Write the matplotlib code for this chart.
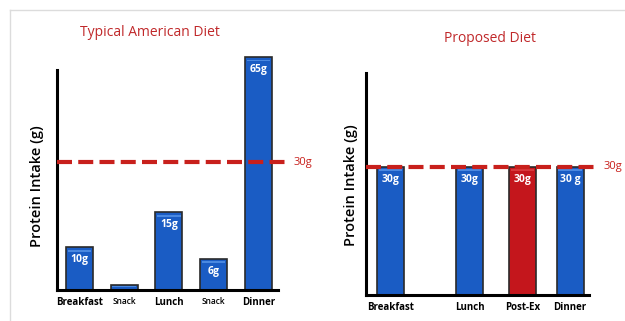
import numpy as np
import matplotlib
matplotlib.use("Agg")
from matplotlib import pyplot as plt
from matplotlib.lines import Line2D

plt.rcParams['font.family'] = ['Open Sans', 'DejaVu Sans']

# typical american diet
typ_meals = ["Breakfast", "Snack", "Lunch", "Snack", "Dinner"]
typ_height = [10, 1.2, 18.2, 7.3, 54.6]
typ_labels = ["10g", "", "15g", "6g", "65g"]

# proposed diet
prop_meals = ["Breakfast", "Lunch", "Post-Ex", "Dinner"]
prop_height = [30, 30, 30, 30]
prop_labels = ["30g", "30g", "30g", "30 g"]

target = 30

blue = "#1a5cc4"
red = "#c4161c"
dash_red = "#c8201c"

fig = plt.figure(figsize=(6.25, 3.21), dpi=100)
W, H = 625., 321.

# faint frame of the slide
fig.add_artist(Line2D([10/W, 1], [1-10/H, 1-10/H], color="#dcdcdc", lw=1))
fig.add_artist(Line2D([10/W, 10/W], [0, 1-10/H], color="#dcdcdc", lw=1))


def panel(rect, xpos, heights, labels, meals, colors, width, xlim, ytop, line_ext, small):
    ax = fig.add_axes(rect)
    bars = ax.bar(xpos, heights, width=width, color=colors, edgecolor="#2a2a2a",
                  linewidth=1.2, clip_on=False, zorder=2)
    # light bevel along the top of each bar
    hl = ["#4a88e0" if c == blue else "#d8383c" for c in colors]
    tops = np.array(heights, dtype=float)
    ax.bar(xpos, np.minimum(0.45, tops * 0.2), bottom=tops - np.minimum(1.0, tops * 0.5),
           width=width * 0.88, color=hl, linewidth=0, clip_on=False, zorder=2.5)
    for b, lab in zip(bars, labels):
        if lab:
            ax.annotate(lab, (b.get_x() + b.get_width()/2, b.get_height()),
                        xytext=(0, -5), textcoords="offset points",
                        ha="center", va="top", color="white",
                        fontsize=7.5, fontweight="bold", zorder=4,
                        annotation_clip=False)
    ax.plot([xlim[0], xlim[1] + line_ext], [target, target], color=dash_red,
            lw=3, dashes=(3.6, 1.5), clip_on=False, zorder=3)
    ax.text(xlim[1] + line_ext + 0.12, target, f"{target}g", color=dash_red,
            fontsize=8, va="center", ha="left")
    ax.set_xlim(*xlim)
    ax.set_ylim(0, ytop)
    for s in ["top", "right"]:
        ax.spines[s].set_visible(False)
    ax.spines["left"].set_linewidth(2.2)
    ax.spines["bottom"].set_linewidth(2.2)
    ax.set_yticks([])
    ax.set_xticks(xpos)
    ax.set_xticklabels(meals)
    for t, m in zip(ax.get_xticklabels(), meals):
        if m in small:
            t.set_fontsize(6)
            t.set_fontweight("semibold")
        else:
            t.set_fontsize(7)
            t.set_fontweight("bold")
    ax.tick_params(axis="x", length=0, pad=5)
    ax.set_ylabel("Protein Intake (g)", fontsize=10.5, fontweight="semibold")
    return ax


ax1 = panel([57/W, 31/H, 221/W, 220/H], np.arange(len(typ_meals)) * 1.0,
            typ_height, typ_labels, typ_meals, [blue]*5, 0.6,
            (-0.5, 4.44), 51.6, 0.22, ["Snack"])
ax1.yaxis.set_label_coords(-0.057, 0.47)

ax2 = panel([366/W, 26/H, 223/W, 222/H], [0, 1.58, 2.64, 3.59],
            prop_height, prop_labels, prop_meals, [blue, blue, red, blue], 0.54,
            (-0.49, 3.97), 52.0, 0.18, [])
ax2.yaxis.set_label_coords(-0.034, 0.495)

fig.text(150/W, 1-33/H, "Typical American Diet", color="#c0282a", fontsize=10,
         ha="center", va="center")
fig.text(490/W, 1-39/H, "Proposed Diet", color="#c0282a", fontsize=10,
         ha="center", va="center")

fig.savefig("out.png", dpi=100)
